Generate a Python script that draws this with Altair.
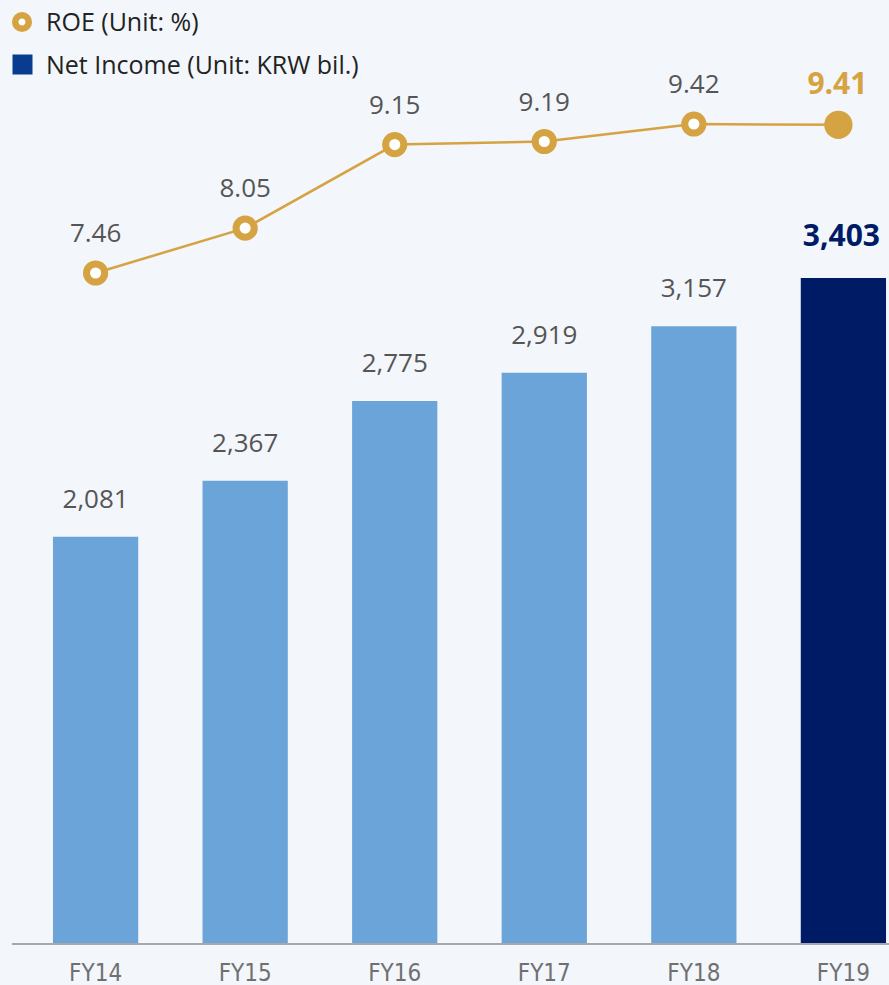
import altair as alt
import pandas as pd

years = ["FY14", "FY15", "FY16", "FY17", "FY18", "FY19"]
net_income = [2081, 2367, 2775, 2919, 3157, 3403]
net_income_labels = ["2,081", "2,367", "2,775", "2,919", "3,157", "3,403"]
roe = [7.46, 8.05, 9.15, 9.19, 9.42, 9.41]
roe_labels = ["7.46", "8.05", "9.15", "9.19", "9.42", "9.41"]
latest = [False, False, False, False, False, True]

df = pd.DataFrame({
    "year": years,
    "ni": net_income,
    "ni_label": net_income_labels,
    "roe": roe,
    "roe_label": roe_labels,
    "latest": latest,
})

BG = "#f3f6fb"
GOLD = "#d5a342"
LIGHT = "#6aa4d8"
NAVY = "#001b66"
LEG_NAVY = "#073c8e"
GRAY = "#555555"

x = alt.X("year:N", sort=years,
          scale=alt.Scale(range=[12, 927], paddingInner=0.43, paddingOuter=0.274),
          axis=alt.Axis(title=None, domain=False, ticks=False, labelAngle=0,
                        labelFont="Liberation Sans Narrow, DejaVu Sans Condensed", labelFontSize=24,
                        labelColor="#707070", labelPadding=17,
                        labelBaseline="top"))

y_ni = alt.Y("ni:Q", scale=alt.Scale(domain=[0, 4824], nice=False, zero=True), axis=None)
y_roe = alt.Y("roe:Q", scale=alt.Scale(domain=[-1.369, 11.052], nice=False, zero=False), axis=None)

base = alt.Chart(df)

bars = base.mark_bar().encode(
    x=x, y=y_ni,
    color=alt.condition("datum.latest", alt.value(NAVY), alt.value(LIGHT)),
)
bar_text = base.transform_filter("!datum.latest").mark_text(
    font="Open Sans", fontSize=26, color=GRAY, baseline="alphabetic", dy=-29
).encode(x=x, y=y_ni, text="ni_label:N")
bar_text_last = base.transform_filter("datum.latest").mark_text(
    font="Open Sans", fontSize=30, fontWeight="bold", color=NAVY, baseline="alphabetic", dy=-32, dx=-2
).encode(x=x, y=y_ni, text="ni_label:N")

baseline = alt.Chart(df).mark_rule(color="#a8a8a8", strokeWidth=2).encode(
    x=alt.value(12), x2=alt.value(889), y=alt.value(944)
)

bar_layer = alt.layer(bars, bar_text, bar_text_last, baseline)

line = base.mark_line(color=GOLD, strokeWidth=2.5).encode(x=x, y=y_roe)
rings = base.transform_filter("!datum.latest").mark_point(
    shape="circle", filled=True, fill="white", stroke=GOLD, strokeWidth=7, size=330, opacity=1
).encode(x=x, y=y_roe)
dot_last = base.transform_filter("datum.latest").mark_point(
    shape="circle", filled=True, color=GOLD, size=800, opacity=1, xOffset=-5
).encode(x=x, y=y_roe)
roe_text = base.transform_filter("!datum.latest").mark_text(
    font="Open Sans", fontSize=26, color=GRAY, baseline="alphabetic", dy=-31
).encode(x=x, y=y_roe, text="roe_label:N")
roe_text_last = base.transform_filter("datum.latest").mark_text(
    font="Open Sans", fontSize=30, fontWeight="bold", color=GOLD, baseline="alphabetic", dy=-31, dx=-6
).encode(x=x, y=y_roe, text="roe_label:N")

roe_layer = alt.layer(line, rings, dot_last, roe_text, roe_text_last)

# legend (manual)
leg_ring = alt.Chart(df).transform_filter("datum.latest").mark_point(
    shape="circle", filled=True, fill="white", stroke=GOLD, strokeWidth=6.5, size=185, opacity=1
).encode(x=alt.value(22), y=alt.value(22))
leg_sq = alt.Chart(df).transform_filter("datum.latest").mark_point(
    shape="square", filled=True, color=LEG_NAVY, size=400, opacity=1
).encode(x=alt.value(22.5), y=alt.value(64.5))
leg_t1 = alt.Chart(df).transform_filter("datum.latest").mark_text(
    font="Open Sans", fontSize=25, color="#222222", align="left", baseline="middle"
).encode(x=alt.value(46), y=alt.value(23), text=alt.value("ROE (Unit: %)"))
leg_t2 = alt.Chart(df).transform_filter("datum.latest").mark_text(
    font="Open Sans", fontSize=25, color="#222222", align="left", baseline="middle"
).encode(x=alt.value(46), y=alt.value(66), text=alt.value("Net Income (Unit: KRW bil.)"))

legend = alt.layer(leg_ring, leg_sq, leg_t1, leg_t2)

chart = alt.layer(bar_layer, roe_layer, legend).resolve_scale(y="independent").properties(
    width=889, height=944,
    padding={"left": 0, "top": 0, "right": 0, "bottom": 41},
    autosize=alt.AutoSizeParams(type="none"),
    background=BG,
).configure_view(stroke=None)

chart.save("out.html", embed_options={"renderer": "svg", "actions": False})
